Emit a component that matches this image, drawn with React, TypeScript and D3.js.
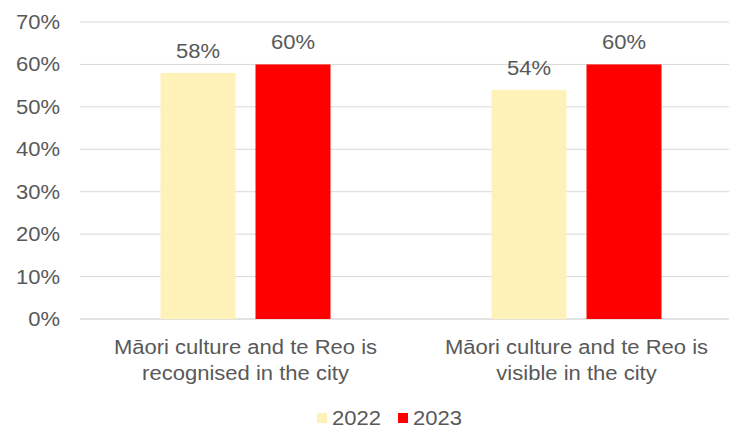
import React from "react";
import * as d3 from "d3";

const categories = [
  ["Māori culture and te Reo is", "recognised in the city"],
  ["Māori culture and te Reo is", "visible in the city"],
];
const seriesNames = ["2022", "2023"];
const values2022 = [58, 54];
const values2023 = [60, 60];
const yTicks = [0, 10, 20, 30, 40, 50, 60, 70];
const colors = ["#FFF2B9", "#FF0000"];

const W = 729;
const H = 427;
const font = "'Liberation Sans', Arial, sans-serif";
const textColor = "#595959";
const FS = 19.5;
const SX = 1.13;

function T({
  x,
  y,
  anchor = "start",
  children,
}: {
  x: number;
  y: number;
  anchor?: string;
  children: React.ReactNode;
}) {
  return (
    <text
      transform={`translate(${x},${y}) scale(${SX},1)`}
      textAnchor={anchor}
      fontFamily={font}
      fontSize={FS}
      fill={textColor}
    >
      {children}
    </text>
  );
}

export default function App() {
  const y = d3.scaleLinear().domain([0, 70]).range([319, 22]);
  const x0 = d3
    .scaleBand<number>()
    .domain(categories.map((_, i) => i))
    .range([80, 742])
    .paddingInner(0)
    .paddingOuter(0);
  const x1 = d3
    .scaleBand<number>()
    .domain([0, 1])
    .range([80.5, 331 - 80.5])
    .paddingInner(20 / 95)
    .paddingOuter(0);
  const series = [values2022, values2023];

  return (
    <svg width={W} height={H} style={{ position: "absolute", left: 0, top: 0, background: "#fff" }}>
      {yTicks.map((t) => (
        <g key={t}>
          <line x1={80} x2={W} y1={y(t)} y2={y(t)} stroke="#D9D9D9" strokeWidth={t === 0 ? 1.5 : 1} />
          <T x={60} y={y(t) + 7} anchor="end">
            {t}%
          </T>
        </g>
      ))}
      {categories.map((cat, ci) =>
        series.map((vals, si) => {
          const bx = (x0(ci) as number) + (x1(si) as number);
          const bw = x1.bandwidth();
          return (
            <g key={`${ci}-${si}`}>
              <rect x={bx} y={y(vals[ci])} width={bw} height={y(0) - y(vals[ci])} fill={colors[si]} />
              <T x={bx + bw / 2} y={y(vals[ci]) - 15} anchor="middle">
                {vals[ci]}%
              </T>
            </g>
          );
        })
      )}
      {categories.map((cat, ci) => {
        const cx = (x0(ci) as number) + x0.bandwidth() / 2;
        return (
          <g key={ci}>
            {cat.map((line, li) => (
              <T key={li} x={cx} y={354 + li * 26} anchor="middle">
                {line}
              </T>
            ))}
          </g>
        );
      })}
      {seriesNames.map((name, i) => {
        const lx = [317, 398][i];
        return (
          <g key={name}>
            <rect x={lx} y={413} width={10} height={10} fill={colors[i]} />
            <T x={lx + 15} y={425}>
              {name}
            </T>
          </g>
        );
      })}
    </svg>
  );
}
